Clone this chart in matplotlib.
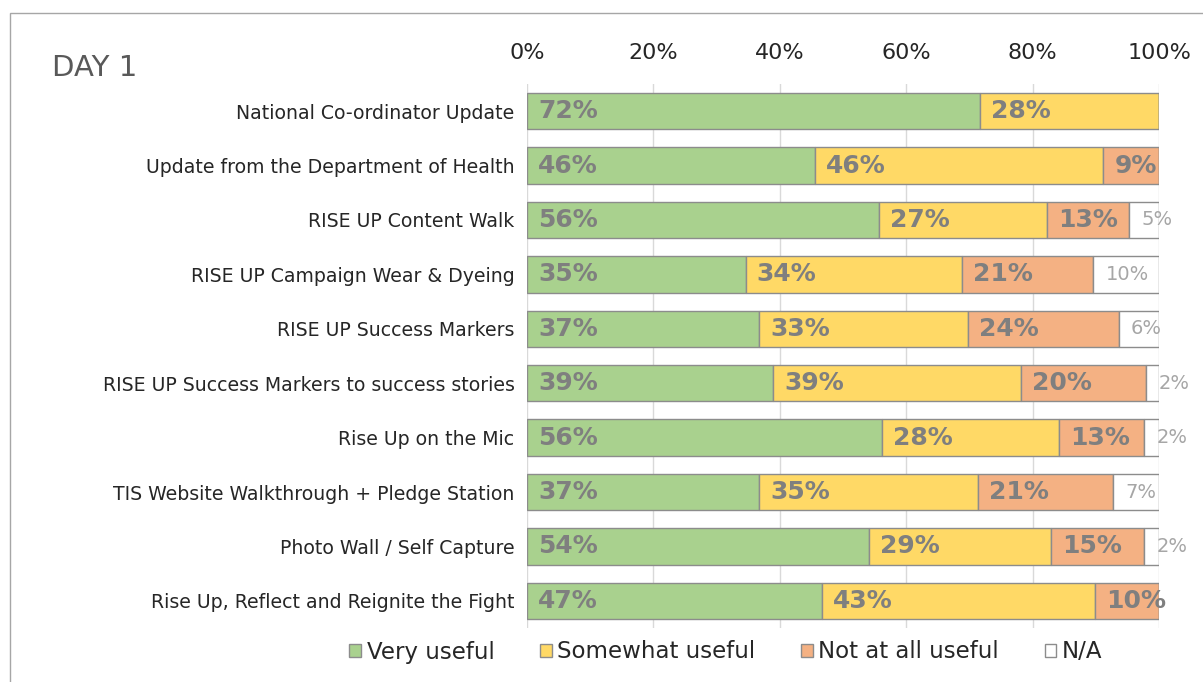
import matplotlib
matplotlib.use("Agg")
import matplotlib.pyplot as plt
from matplotlib.patches import Rectangle, Patch
import numpy as np

plt.rcParams['font.family'] = ['DejaVu Sans']

categories = [
    "National Co-ordinator Update",
    "Update from the Department of Health",
    "RISE UP Content Walk",
    "RISE UP Campaign Wear & Dyeing",
    "RISE UP Success Markers",
    "RISE UP Success Markers to success stories",
    "Rise Up on the Mic",
    "TIS Website Walkthrough + Pledge Station",
    "Photo Wall / Self Capture",
    "Rise Up, Reflect and Reignite the Fight",
]
very_useful     = [71.7, 45.6, 55.7, 34.6, 36.7, 38.9, 56.2, 36.7, 54.1, 46.6]
somewhat_useful = [28.3, 45.6, 26.6, 34.2, 33.0, 39.3, 28.0, 34.6, 28.8, 43.2]
not_useful      = [0.0,  8.8,  13.0, 20.8, 23.9, 19.7, 13.4, 21.4, 14.7, 10.2]
na              = [0.0,  0.0,  4.7,  10.4, 6.4,  2.1,  2.4,  7.3,  2.4,  0.0]

series_names = ["Very useful", "Somewhat useful", "Not at all useful", "N/A"]
series_vals = [very_useful, somewhat_useful, not_useful, na]
colors = ["#a9d18e", "#ffd966", "#f4b183", "#ffffff"]
ticks = [0, 20, 40, 60, 80, 100]
tick_labels = ["0%", "20%", "40%", "60%", "80%", "100%"]

W, H = 1203, 682
fig = plt.figure(figsize=(W / 100, H / 100), dpi=100)

# outer frame
fig.patches.append(Rectangle((10 / W, -0.1), 1.2, 1 - 13 / H + 0.1, transform=fig.transFigure,
                             fill=False, edgecolor="#a6a6a6", linewidth=1.0))

ax = fig.add_axes([527 / W, 1 - 628 / H, (1159 - 527) / W, (628 - 84) / H])
y = np.arange(len(categories))
left = np.zeros(len(categories))
for name, vals, col in zip(series_names, series_vals, colors):
    vals = np.array(vals)
    ax.barh(y, vals, left=left, height=0.67, color=col, edgecolor="#8c8c8c",
            linewidth=1.0, label=name, zorder=3)
    for yi, (l, v) in enumerate(zip(left, vals)):
        if v <= 0:
            continue
        if name == "N/A":
            ax.annotate(f"{v:.0f}%", (l, yi), xytext=(9, 0), textcoords="offset points",
                        ha="left", va="center", fontsize=14, color="#a6a6a6", zorder=4)
        else:
            ax.annotate(f"{v:.0f}%", (l, yi), xytext=(8, 0), textcoords="offset points",
                        ha="left", va="center", fontsize=18, fontweight="bold",
                        color="#7f7f7f", zorder=4)
    left = left + vals

ax.set_xlim(0, 100)
ax.set_ylim(len(categories) - 0.5, -0.5)
ax.set_yticks(y)
ax.set_yticklabels(categories, fontsize=13.6, color="#262626")
ax.set_xticks(ticks)
ax.set_xticklabels(tick_labels, fontsize=16, color="#262626")
ax.xaxis.tick_top()
ax.tick_params(axis="x", length=0, pad=15)
ax.tick_params(axis="y", length=0, pad=9)
ax.grid(axis="x", color="#d9d9d9", linewidth=1.0, zorder=0)
for s in ax.spines.values():
    s.set_visible(False)

fig.text(52 / W, 1 - 68 / H, "DAY 1", fontsize=21, color="#595959", ha="left", va="center")

handles = [Patch(facecolor=c, edgecolor="#8c8c8c", linewidth=1.0) for c in colors]
fig.legend(handles, series_names, loc="center", bbox_to_anchor=(726 / W, 1 - 652 / H),
           ncol=4, frameon=False, fontsize=16.5, handlelength=0.5, handleheight=0.5,
           handletextpad=0.25, columnspacing=2.0, labelcolor="#262626")

fig.savefig("out.png", dpi=100)
